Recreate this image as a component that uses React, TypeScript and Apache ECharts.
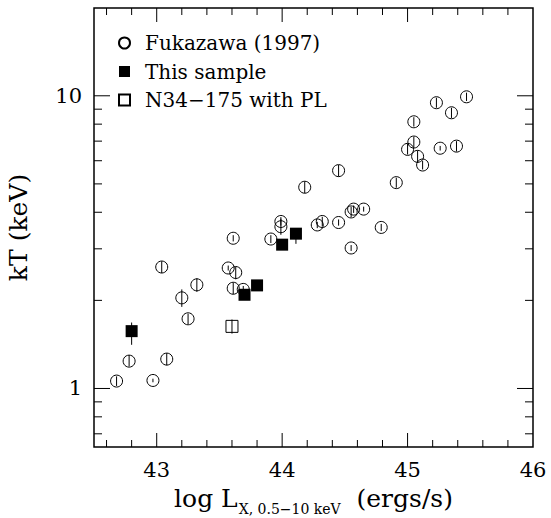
import React, { useEffect, useRef } from "react";
import * as echarts from "echarts";

// ---- Data ----
// Fukazawa (1997): log Lx, kT, kT lower, kT upper
const fukazawaX = [42.68, 42.78, 42.97, 43.08, 43.04, 43.20, 43.25, 43.32, 43.57, 43.63, 43.61, 43.69, 43.61, 43.91, 43.99, 43.99, 44.18, 44.28, 44.32, 44.45, 44.45, 44.55, 44.55, 44.57, 44.65, 44.79, 44.91, 45.00, 45.05, 45.05, 45.08, 45.12, 45.23, 45.26, 45.35, 45.39, 45.47];
const fukazawaY = [1.06, 1.24, 1.065, 1.26, 2.60, 2.04, 1.73, 2.26, 2.58, 2.49, 2.20, 2.18, 3.26, 3.24, 3.72, 3.57, 4.87, 3.62, 3.72, 3.69, 5.55, 3.02, 4.01, 4.10, 4.10, 3.55, 5.05, 6.56, 6.95, 8.15, 6.21, 5.80, 9.47, 6.62, 8.75, 6.73, 9.92];
const fukazawaLo = [1.02, 1.19, 1.05, 1.20, 2.48, 1.90, 1.66, 2.14, 2.53, 2.36, 2.10, 2.12, 3.18, 3.14, 3.60, 3.35, 4.65, 3.53, 3.58, 3.60, 5.30, 2.95, 3.85, 3.98, 4.02, 3.45, 4.85, 6.30, 6.65, 7.85, 5.90, 5.60, 9.10, 6.50, 8.40, 6.45, 9.60];
const fukazawaHi = [1.10, 1.30, 1.08, 1.32, 2.72, 2.18, 1.80, 2.38, 2.63, 2.60, 2.30, 2.24, 3.34, 3.34, 3.85, 3.80, 5.10, 3.71, 3.86, 3.78, 5.80, 3.09, 4.17, 4.22, 4.18, 3.65, 5.25, 6.85, 7.25, 8.45, 6.50, 6.00, 9.85, 6.74, 9.10, 7.00, 10.25];

// This sample
const sampleX = [42.80, 43.70, 43.80, 44.00, 44.11];
const sampleY = [1.57, 2.09, 2.25, 3.10, 3.38];
const sampleLo = [1.41, 2.02, 2.18, 3.00, 3.12];
const sampleHi = [1.68, 2.16, 2.32, 3.20, 3.52];

// N34-175 with PL
const plX = [43.60];
const plY = [1.63];
const plLo = [1.54];
const plHi = [1.72];

// Axes
const xTickLabels = ["43", "44", "45", "46"];
const yTickLabels = ["1", "10"];
const xMajorTicks = [43, 44, 45];
const xMinorTicks = [42.6, 42.8, 43.2, 43.4, 43.6, 43.8, 44.2, 44.4, 44.6, 44.8, 45.2, 45.4, 45.6, 45.8];
const yMajorTicks = [1, 10];
const yMinorTicks = [0.7, 0.8, 0.9, 2, 3, 4, 5, 6, 7, 8, 9];

const seriesNames = ["Fukazawa (1997)", "This sample", "N34\u2212175 with PL"];

const FONT = "DejaVu Serif";

function zip(xs: number[], ys: number[]) {
  return xs.map((x, i) => [x, ys[i]]);
}
function zipErr(xs: number[], ys: number[], lo: number[], hi: number[]) {
  return xs.map((x, i) => [x, ys[i], lo[i], hi[i]]);
}

export default function App() {
  const ref = useRef<HTMLDivElement>(null);

  useEffect(() => {
    if (!ref.current) return;
    const chart = echarts.init(ref.current, null, { renderer: "svg" });

    const errorBarSeries = (data: number[][], z: number) => ({
      type: "custom",
      silent: true,
      coordinateSystem: "cartesian2d",
      encode: { x: 0, y: 1 },
      z,
      data,
      renderItem: (params: any, api: any) => {
        const p1 = api.coord([api.value(0), api.value(2)]);
        const p2 = api.coord([api.value(0), api.value(3)]);
        return {
          type: "line",
          shape: { x1: p1[0], y1: p1[1], x2: p2[0], y2: p2[1] },
          style: { stroke: "#000", lineWidth: 1 },
        };
      },
    });

    const xTickData = [
      ...xMajorTicks.map((v) => [v, 1, 1]),
      ...xMinorTicks.map((v) => [v, 1, 0]),
    ];
    const yTickData = [
      ...yMajorTicks.map((v) => [43, v, 1]),
      ...yMinorTicks.map((v) => [43, v, 0]),
    ];

    const tickSeries = (data: number[][], orient: "x" | "y") => ({
      type: "custom",
      silent: true,
      coordinateSystem: "cartesian2d",
      encode: { x: 0, y: 1 },
      clip: false,
      z: 1,
      data,
      renderItem: (params: any, api: any) => {
        const cs = params.coordSys;
        const major = api.value(2) === 1;
        const style = { stroke: "#000", lineWidth: 1 };
        if (orient === "x") {
          const px = api.coord([api.value(0), 1])[0];
          const len = major ? 14 : 7;
          const b = cs.y + cs.height;
          return {
            type: "group",
            children: [
              { type: "line", shape: { x1: px, y1: b, x2: px, y2: b - len }, style },
              { type: "line", shape: { x1: px, y1: cs.y, x2: px, y2: cs.y + len }, style },
            ],
          };
        }
        const py = api.coord([43, api.value(1)])[1];
        const len = major ? 16 : 8;
        const r = cs.x + cs.width;
        return {
          type: "group",
          children: [
            { type: "line", shape: { x1: cs.x, y1: py, x2: cs.x + len, y2: py }, style },
            { type: "line", shape: { x1: r, y1: py, x2: r - len, y2: py }, style },
          ],
        };
      },
    });

    const option: any = {
      animation: false,
      backgroundColor: "#fff",
      grid: {
        left: 94,
        right: 18,
        top: 8,
        bottom: 71,
        show: true,
        borderColor: "#000",
        borderWidth: 1.5,
        backgroundColor: "transparent",
        containLabel: false,
        outerBoundsMode: "none",
      },
      legend: {
        data: seriesNames,
        orient: "vertical",
        left: 118,
        top: 31,
        padding: 0,
        itemWidth: 11,
        itemHeight: 11,
        itemGap: 4.5,
        selectedMode: false,
        textStyle: {
          fontFamily: FONT,
          fontSize: 20,
          color: "#000",
          lineHeight: 24,
          padding: [0, 0, 0, 10],
        },
      },
      xAxis: {
        type: "value",
        min: 42.5,
        max: 46,
        interval: 0.5,
        axisLine: { show: false },
        axisTick: { show: false },
        splitLine: { show: false },
        axisLabel: {
          color: "#000",
          fontFamily: FONT,
          fontSize: 21,
          margin: 12,
          showMinLabel: false,
          formatter: (v: number) => {
            const s = String(Math.round(v));
            return Math.abs(v - Math.round(v)) < 1e-6 && xTickLabels.includes(s) ? s : "";
          },
        },
        name: "{a|log L}{s|X, 0.5\u221210 keV}{a|  (ergs/s)}",
        nameLocation: "middle",
        nameGap: 39,
        nameTextStyle: {
          rich: {
            a: { fontFamily: FONT, fontSize: 25, color: "#000", lineHeight: 28, verticalAlign: "top" },
            s: { fontFamily: FONT, fontSize: 14, color: "#000", lineHeight: 14, verticalAlign: "top", padding: [16, 0, 0, 1] },
          },
        },
      },
      yAxis: {
        type: "log",
        logBase: 10,
        min: 0.631,
        max: 19.95,
        axisLine: { show: false },
        axisTick: { show: false },
        splitLine: { show: false },
        minorTick: { show: false },
        axisLabel: {
          color: "#000",
          fontFamily: FONT,
          fontSize: 21,
          margin: 12,
          showMinLabel: false,
          showMaxLabel: false,
          formatter: (v: number) => {
            const r = Math.round(v);
            const s = String(r);
            return Math.abs(v - r) < 1e-6 && yTickLabels.includes(s) ? s : "";
          },
        },
        name: "kT (keV)",
        nameLocation: "middle",
        nameGap: 63,
        nameRotate: 90,
        nameTextStyle: { fontFamily: FONT, fontSize: 25, color: "#000" },
      },
      series: [
        tickSeries(xTickData, "x"),
        tickSeries(yTickData, "y"),
        errorBarSeries(zipErr(fukazawaX, fukazawaY, fukazawaLo, fukazawaHi), 2),
        {
          name: seriesNames[0],
          type: "scatter",
          symbol: "circle",
          symbolSize: 12,
          z: 3,
          itemStyle: { color: "rgba(255,255,255,0)", borderColor: "#000", borderWidth: 1, opacity: 1 },
          emphasis: { disabled: true },
          data: zip(fukazawaX, fukazawaY),
        },
        errorBarSeries(zipErr(plX, plY, plLo, plHi), 4),
        {
          name: seriesNames[2],
          type: "scatter",
          symbol: "rect",
          symbolSize: 12,
          z: 5,
          itemStyle: { color: "rgba(255,255,255,0)", borderColor: "#000", borderWidth: 1, opacity: 1 },
          emphasis: { disabled: true },
          data: zip(plX, plY),
        },
        errorBarSeries(zipErr(sampleX, sampleY, sampleLo, sampleHi), 6),
        {
          name: seriesNames[1],
          type: "scatter",
          symbol: "rect",
          symbolSize: 12,
          z: 7,
          itemStyle: { color: "#000", borderColor: "#000", borderWidth: 0, opacity: 1 },
          emphasis: { disabled: true },
          data: zip(sampleX, sampleY),
        },
      ],
    };

    chart.setOption(option);
    return () => chart.dispose();
  }, []);

  return <div ref={ref} style={{ width: 551, height: 518, position: "absolute", left: 0, top: 0 }} />;
}
